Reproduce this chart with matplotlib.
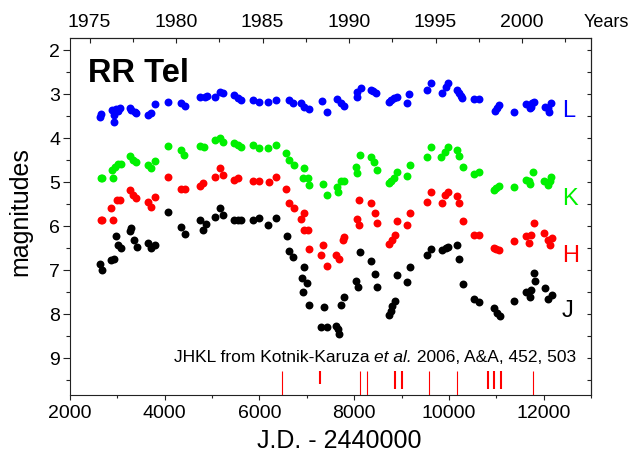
import matplotlib
matplotlib.use('Agg')
import matplotlib.pyplot as plt
from matplotlib.ticker import MultipleLocator, FixedLocator

plt.rcParams['font.family'] = ['Liberation Sans', 'DejaVu Sans']

# ---------------- data (JD - 2440000, magnitude) ----------------
L_jd = [2632, 2660, 2877, 2927, 2934, 2962, 3004, 3053, 3263, 3298, 3369, 3404,
        3650, 3720, 3804, 4070, 4351, 4421, 4737, 4843, 4900, 5053, 5158, 5228,
        5460, 5544, 5614, 5860, 6000, 6175, 6351, 6632, 6702, 6877, 6947, 7053,
        7330, 7424, 7635, 7719, 7789, 8060, 8070, 8140, 8350, 8400, 8456, 8737,
        8770, 8842, 8912, 9123, 9158, 9544, 9628, 9859, 9930, 9979, 10161, 10210,
        10245, 10280, 10540, 10631, 10982, 11010, 11052, 11368, 11634, 11705,
        11733, 11760, 11789, 12034, 12084, 12105, 12154]
L_mag = [3.52, 3.44, 3.36, 3.62, 3.47, 3.34, 3.38, 3.31, 3.32, 3.36, 3.39, 3.43,
         3.47, 3.43, 3.23, 3.17, 3.19, 3.27, 3.05, 3.05, 3.04, 3.05, 2.94, 2.98,
         3.02, 3.09, 3.14, 3.13, 3.17, 3.17, 3.14, 3.14, 3.20, 3.20, 3.28, 3.34,
         3.16, 3.39, 3.11, 3.19, 3.26, 3.05, 2.94, 2.86, 2.90, 2.93, 2.98, 3.17,
         3.13, 3.09, 3.05, 3.20, 3.00, 2.90, 2.74, 2.98, 2.83, 2.74, 2.90, 2.98,
         3.03, 3.09, 3.11, 3.11, 3.37, 3.30, 3.24, 3.39, 3.22, 3.32,
         3.28, 3.20, 3.17, 3.28, 3.32, 3.39, 3.20]

K_jd = [2646, 2680, 2877, 2913, 2948, 3018, 3074, 3263, 3334, 3404, 3650, 3720,
        3790, 4070, 4351, 4407, 4737, 4820, 5053, 5158, 5228, 5460, 5544, 5614,
        5860, 6000, 6175, 6351, 6561, 6632, 6723, 6912, 6947, 7018, 7053, 7350,
        7424, 7640, 7663, 7719, 7775, 8035, 8070, 8126, 8350, 8421, 8477, 8737,
        8770, 8842, 8898, 9123, 9178, 9544, 9628, 9838, 9909, 9979, 10175, 10210,
        10301, 10540, 10631, 10961, 11000, 11052, 11368, 11634, 11684, 11705,
        11775, 12000, 12084, 12126, 12154]
K_mag = [4.89, 4.89, 4.72, 4.89, 4.64, 4.58, 4.58, 4.40, 4.49, 4.53, 4.61, 4.68,
         4.52, 4.17, 4.27, 4.38, 4.17, 4.19, 4.04, 4.00, 4.08, 4.11, 4.15, 4.20,
         4.15, 4.23, 4.23, 4.15, 4.33, 4.49, 4.61, 4.89, 4.68, 4.91, 5.06, 5.04,
         5.29, 5.10, 5.21, 4.98, 4.96, 4.64, 4.78, 4.38, 4.43, 4.53, 4.72, 5.01,
         4.97, 4.91, 4.76, 4.86, 4.61, 4.42, 4.20, 4.42, 4.30, 4.20, 4.27, 4.40,
         4.66, 4.81, 4.76, 5.17, 5.12, 5.08, 5.11, 4.95, 4.98, 5.04,
         4.76, 4.96, 5.06, 4.96, 4.87]

H_jd = [2646, 2680, 2863, 2913, 2983, 3053, 3263, 3334, 3404, 3650, 3706, 3804,
        4070, 4351, 4421, 4737, 4807, 5053, 5158, 5228, 5460, 5544, 5860, 6000,
        6210, 6351, 6561, 6632, 6737, 6877, 6933, 6940, 7018, 7053, 7298, 7350,
        7430, 7614, 7684, 7754, 7789, 8056, 8100, 8105, 8365, 8435, 8477, 8737,
        8807, 8856, 8898, 9123, 9178, 9544, 9628, 9859, 9909, 9979, 10161, 10210,
        10301, 10540, 10631, 10961, 11000, 11052, 11368, 11634, 11684, 11733,
        11789, 12014, 12084, 12140, 12175]
H_mag = [5.86, 5.86, 5.59, 5.86, 5.40, 5.39, 5.17, 5.29, 5.36, 5.44, 5.55, 5.33,
         4.87, 5.16, 5.16, 5.08, 5.02, 4.87, 4.68, 4.83, 4.95, 4.91, 4.96, 4.96,
         4.99, 4.87, 5.16, 5.48, 5.59, 5.84, 5.69, 6.08, 6.08, 6.52, 6.65, 6.43,
         6.89, 6.65, 6.73, 6.31, 6.24, 5.84, 5.97, 5.39, 5.48, 5.69, 5.92, 6.39,
         6.31, 6.20, 5.87, 5.97, 5.69, 5.44, 5.21, 5.48, 5.29, 5.21, 5.31, 5.46,
         5.87, 6.20, 6.20, 6.50, 6.52, 6.54, 6.33, 6.22, 6.37, 6.20,
         5.93, 6.16, 6.31, 6.42, 6.27]

J_jd = [2632, 2681, 2863, 2934, 2962, 3004, 3074, 3263, 3285, 3355, 3425, 3650,
        3720, 3804, 4070, 4351, 4421, 4737, 4807, 4877, 5053, 5158, 5228, 5460,
        5537, 5614, 5860, 6000, 6190, 6351, 6583, 6632, 6702, 6891, 6926, 6947,
        7004, 7053, 7298, 7368, 7430, 7614, 7663, 7684, 7719, 7775, 8035, 8084,
        8126, 8350, 8435, 8477, 8737, 8772, 8807, 8856, 8898, 9123, 9178, 9544,
        9628, 9859, 9930, 9979, 10175, 10210, 10301, 10540, 10631, 10961, 11017,
        11073, 11368, 11634, 11705, 11733, 11789, 11824, 12034, 12084, 12175]
J_mag = [6.86, 6.99, 6.77, 6.74, 6.21, 6.42, 6.50, 6.11, 6.03, 6.31, 6.48, 6.37,
         6.50, 6.42, 5.68, 6.02, 6.17, 5.86, 6.08, 5.95, 5.78, 5.59, 5.74, 5.86,
         5.86, 5.86, 5.86, 5.82, 5.97, 5.82, 6.22, 6.55, 6.69, 7.18, 7.49, 6.92,
         7.28, 7.79, 8.28, 7.84, 8.28, 8.27, 8.34, 8.45, 7.79, 7.61, 7.24, 7.37,
         6.58, 6.78, 7.08, 7.37, 8.02, 7.92, 7.81, 7.69, 7.11, 7.26, 6.92, 6.65,
         6.52, 6.54, 6.50, 6.46, 6.42, 6.73, 7.32, 7.64, 7.71, 7.86, 7.96,
         8.04, 7.69, 7.49, 7.61, 7.45, 7.07, 7.24, 7.41, 7.66, 7.56]

# epochs marked by red bars at the bottom
event_jd = [6470, 7277, 8119, 8274, 8856, 9003, 9579, 10175, 10821, 10961, 11108, 11768]
event_thick = [False, True, False, False, True, True, False, False, True, True, True, False]
event_bottom = [9.82, 9.59, 9.82, 9.82, 9.70, 9.70, 9.82, 9.82, 9.70, 9.70, 9.70, 9.82]

band_names = ['L', 'K', 'H', 'J']
band_colors = ['#0000ff', '#00f000', '#ff0000', '#000000']
band_label_mag = [3.52, 5.52, 6.80, 8.06]

year_ticks = [1975, 1980, 1985, 1990, 1995, 2000]
year_minor = [1977.5, 1982.5, 1987.5, 1992.5, 1997.5, 2002.5]

# ---------------- figure ----------------
W, H = 634, 459
fig = plt.figure(figsize=(W / 100, H / 100), dpi=100)
left, right, top, bottom = 70, 591, 38, 394.5
ax = fig.add_axes([left / W, 1 - bottom / H, (right - left) / W, (bottom - top) / H])

for jd, mag, c in zip([L_jd, K_jd, H_jd, J_jd], [L_mag, K_mag, H_mag, J_mag], band_colors):
    ax.plot(jd, mag, 'o', ms=5.7, color=c, mec='none', zorder=3)

ax.set_xlim(2000, 13000)
ax.set_ylim(9.82, 1.72)

ax.xaxis.set_major_locator(MultipleLocator(2000))
ax.xaxis.set_minor_locator(MultipleLocator(1000))
ax.yaxis.set_major_locator(MultipleLocator(1))
ax.yaxis.set_minor_locator(MultipleLocator(0.5))
ax.set_yticks([2, 3, 4, 5, 6, 7, 8, 9])

for s in ax.spines.values():
    s.set_linewidth(0.8)
    s.set_color('#222222')

ax.tick_params(axis='x', which='major', direction='out', length=3.8, width=0.8,
               labelsize=14, pad=3.5, top=False, color='#222222')
ax.tick_params(axis='x', which='minor', direction='out', length=2.0, width=0.8,
               top=False, color='#222222')
ax.tick_params(axis='y', which='major', direction='out', length=5.2, width=0.8,
               labelsize=14, pad=2, right=False, color='#222222')
ax.tick_params(axis='y', which='minor', direction='out', length=3.0, width=0.8,
               right=False, color='#222222')

# right mirror ticks (inward)
secy = ax.secondary_yaxis('right')
secy.yaxis.set_major_locator(MultipleLocator(1))
secy.yaxis.set_minor_locator(MultipleLocator(0.5))
secy.tick_params(which='both', direction='in', length=3.0, width=0.8, labelright=False,
                 color='#222222')
secy.spines['right'].set_linewidth(0.8)

# top years axis
def jd2yr(x):
    return 1968.392 + x / 365.25

def yr2jd(y):
    return (y - 1968.392) * 365.25

secx = ax.secondary_xaxis('top', functions=(jd2yr, yr2jd))
secx.set_xticks(year_ticks)
secx.xaxis.set_minor_locator(FixedLocator(year_minor))
secx.tick_params(which='major', direction='in', length=3.6, width=0.8, labelsize=14,
                 pad=5, color='#222222')
secx.tick_params(which='minor', direction='in', length=2.6, width=0.8, color='#222222')
secx.spines['top'].set_linewidth(0.8)
fig.text(584 / W, 1 - 26.7 / H, 'Years', fontsize=13, va='baseline', ha='left')

# red epoch bars
lw = [1.5 if t else 0.8 for t in event_thick]
ax.vlines(event_jd, 9.29, event_bottom, colors='#ff0000', linewidths=lw, zorder=2)

# texts
ax.text(2380, 2.72, 'RR Tel', fontsize=23.5, fontweight='bold', va='baseline', ha='left')
for name, c, m in zip(band_names, band_colors, band_label_mag):
    ax.text(12390, m, name, color=c, fontsize=17, va='baseline', ha='left')

t3 = ax.text(12682, 9.08, ' 2006, A&A, 452, 503', fontsize=12.5, ha='right', va='baseline')
t2 = ax.annotate('et al.', xy=(0, 0), xycoords=t3, fontsize=12.5, fontstyle='italic',
                 ha='right', va='bottom')
t1 = ax.annotate('JHKL from Kotnik-Karuza ', xy=(0, 0), xycoords=t2, fontsize=12.5,
                 ha='right', va='bottom')

ax.set_xlabel('J.D. - 2440000', fontsize=18)
ax.xaxis.set_label_coords(0.517, -0.097)
ax.set_ylabel('magnitudes', fontsize=18)
ax.yaxis.set_label_coords(-0.072, 0.512)

fig.savefig('out.png', dpi=100)
